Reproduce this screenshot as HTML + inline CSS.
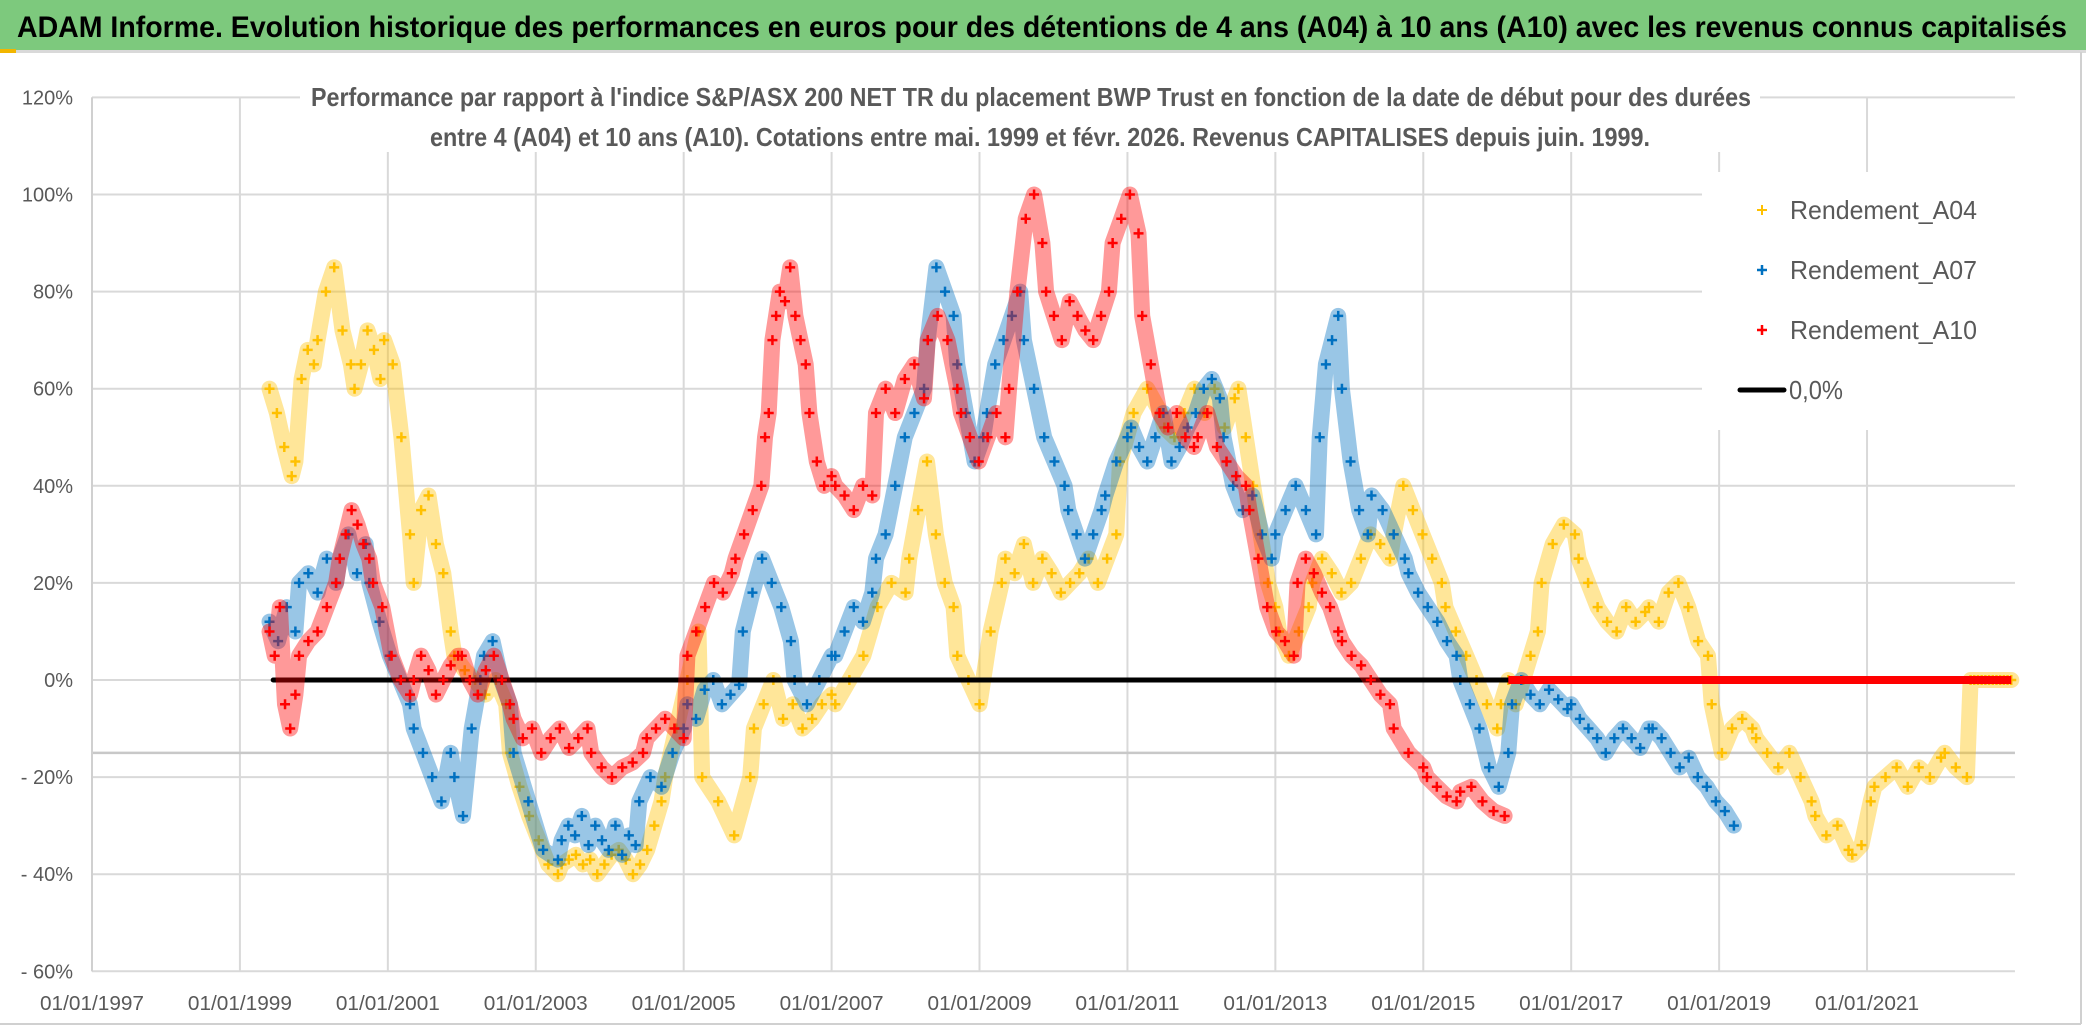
<!DOCTYPE html>
<html><head><meta charset="utf-8">
<style>
html,body{margin:0;padding:0;background:#fff;}
svg{display:block;font-family:"Liberation Sans",sans-serif;}
</style></head>
<body>
<svg id="chart" width="2086" height="1031" viewBox="0 0 2086 1031" xmlns="http://www.w3.org/2000/svg">
<rect x="0" y="0" width="2086" height="1031" fill="#fff"/>
<rect x="0" y="0" width="2086" height="50" fill="#7DC97D"/>
<line x1="0" y1="51.5" x2="2086" y2="51.5" stroke="#d9d9d9" stroke-width="3"/>
<rect x="0" y="49" width="16" height="4" fill="#F2B600"/>
<text x="1042" y="37" text-anchor="middle" font-size="30" font-weight="bold" fill="#000" textLength="2050" lengthAdjust="spacingAndGlyphs">ADAM Informe. Evolution historique des performances en euros pour des détentions de 4 ans (A04) à 10 ans (A10) avec les revenus connus capitalisés</text>
<line x1="2081" y1="52" x2="2081" y2="1024" stroke="#d0d0d0" stroke-width="2"/>
<line x1="0" y1="1024" x2="2081" y2="1024" stroke="#d0d0d0" stroke-width="2"/>
<g id="grid"></g>
<g id="axes"></g>
<g id="series"></g>
<rect x="300" y="70" width="1460" height="82" fill="#fff"/>
<text x="1031" y="106" text-anchor="middle" font-size="26" font-weight="600" fill="#595959" textLength="1440" lengthAdjust="spacingAndGlyphs">Performance par rapport à l'indice S&amp;P/ASX 200 NET TR  du placement BWP Trust en fonction de la date de début pour des durées</text>
<text x="1040" y="146" text-anchor="middle" font-size="26" font-weight="600" fill="#595959" textLength="1220" lengthAdjust="spacingAndGlyphs">entre 4 (A04) et 10 ans (A10). Cotations entre mai. 1999 et févr. 2026. Revenus CAPITALISES depuis juin. 1999.</text>
<g>
<rect x="1702" y="172" width="313" height="258" fill="#fff"/>
<g>
<path d="M1757 210h10M1762 205v10" stroke="#FFC000" stroke-width="2"/>
<text x="1790" y="219" font-size="26" fill="#595959" textLength="187" lengthAdjust="spacingAndGlyphs">Rendement_A04</text></g>
<g>
<path d="M1757 270h10M1762 265v10" stroke="#0070C0" stroke-width="2.5"/>
<text x="1790" y="279" font-size="26" fill="#595959" textLength="187" lengthAdjust="spacingAndGlyphs">Rendement_A07</text></g>
<g>
<path d="M1757 330h10M1762 325v10" stroke="#FF0000" stroke-width="2.5"/>
<text x="1790" y="339" font-size="26" fill="#595959" textLength="187" lengthAdjust="spacingAndGlyphs">Rendement_A10</text></g>
<g>
<line x1="1740" y1="390" x2="1784" y2="390" stroke="#000" stroke-width="5" stroke-linecap="round"/>
<text x="1789" y="399" font-size="26" fill="#595959" textLength="54" lengthAdjust="spacingAndGlyphs">0,0%</text></g>
</g>
</svg>
<script>
// ---- data ----
const yTicks = [120,100,80,60,40,20,0,-20,-40,-60];
const yTickLabels = ["120%","100%","80%","60%","40%","20%","0%","- 20%","- 40%","- 60%"];
const xTicks = [1997,1999,2001,2003,2005,2007,2009,2011,2013,2015,2017,2019,2021];
const xTickLabels = ["01/01/1997","01/01/1999","01/01/2001","01/01/2003","01/01/2005","01/01/2007","01/01/2009","01/01/2011","01/01/2013","01/01/2015","01/01/2017","01/01/2019","01/01/2021"];
const zeroLine = {start:1999.45, end:2016.15, value:0};
// segments: [startYear, endYear, values(%)]
const a04Segments = [
 [1999.4,1999.7,[60,55,48,42]],[1999.75,2000.0,[45,62,68,65]],[2000.05,2000.5,[70,80,85,72,65]],
 [2000.55,2000.9,[60,65,72,68,62]],[2000.95,2001.3,[70,65,50,30]],[2001.35,2001.85,[20,35,38,28,22,10]],
 [2001.9,2002.6,[5,2,0,-3,0,-5]],[2002.65,2003.3,[-15,-22,-28,-33,-38,-40]],
 [2003.35,2004.7,[-38,-37,-36,-38,-37,-40,-38,-36,-35,-37,-40,-38,-35,-30,-25]],
 [2004.75,2005.2,[-20,-10,0,10]],[2005.25,2005.9,[-20,-25,-32,-20]],
 [2005.95,2007.0,[-10,-5,0,-8,-5,-10,-8,-5,-3]],[2007.05,2008.0,[-5,0,5,15,20,18]],
 [2008.05,2008.65,[25,35,45,30,20,15]],[2008.7,2009.3,[5,0,-5,10,20]],
 [2009.35,2010.85,[25,22,28,20,25,22,18,20,22,25,20,25,30]],[2010.9,2011.45,[45,55,60,55]],
 [2011.5,2012.45,[52,50,55,60,55,60,52,58]],[2012.5,2013.0,[60,50,40,30,20,15]],
 [2013.05,2013.45,[10,5,10,15]],[2013.5,2014.55,[20,25,22,18,20,25,30,28,25]],
 [2014.6,2015.25,[30,40,35,30,25,20]],[2015.3,2016.0,[15,10,5,0,-5,-10]],
 [2016.05,2016.55,[-5,0,-5,0,5,10]],[2016.6,2017.05,[20,28,32,30]],
 [2017.1,2018.0,[25,20,15,12,10,15,12,14]],[2018.05,2018.85,[15,12,18,20,15,8,5]],
 [2018.9,2019.45,[-5,-15,-10,-8,-10]],[2019.5,2020.25,[-12,-15,-18,-15,-20,-25]],
 [2020.3,2020.75,[-28,-32,-30,-35]],[2020.8,2021.05,[-36,-34,-25]],
 [2021.1,2022.0,[-22,-20,-18,-22,-18,-20,-16]],[2022.05,2022.35,[-15,-18,-20]],
 [2022.4,2022.95,[0,0,0,0,0,0,0,0,0,0,0,0]]
];
const a07Segments = [
 [1999.4,1999.75,[12,8,15,10]],[1999.8,2000.3,[20,22,18,25,20]],[2000.35,2000.7,[25,30,22,28]],
 [2000.75,2001.3,[20,12,5,0,-5]],[2001.35,2001.85,[-10,-15,-20,-25,-15]],[2001.9,2002.25,[-20,-28,-10,0]],
 [2002.3,2002.65,[5,8,0,-5]],[2002.7,2003.3,[-15,-25,-35,-37]],
 [2003.35,2004.35,[-33,-30,-32,-28,-34,-30,-33,-35,-30,-36,-32,-34]],
 [2004.4,2005.0,[-25,-20,-22,-15,-10]],[2005.05,2005.75,[-5,-8,-2,0,-5,-3,-1]],
 [2005.8,2006.45,[10,18,25,20,15,8]],[2006.5,2007.0,[0,-5,0,5]],[2007.05,2007.55,[5,10,15,12,18]],
 [2007.6,2008.25,[25,30,40,50,55,60]],[2008.3,2008.65,[70,85,80,75]],[2008.7,2009.05,[65,55,45,50]],
 [2009.1,2009.55,[55,65,70,75,80]],[2009.6,2010.15,[70,60,50,45,40]],[2010.2,2010.65,[35,30,25,30,35]],
 [2010.7,2011.0,[38,45,50]],[2011.05,2012.25,[52,48,45,50,55,45,48,52,55,60,62,58]],
 [2012.3,2012.95,[50,40,35,38,30,25]],[2013.0,2013.55,[30,35,40,35,30]],
 [2013.6,2013.85,[50,65,70,75]],[2013.9,2014.25,[60,45,35,30]],[2014.3,2014.75,[38,35,30,25]],
 [2014.8,2015.45,[22,18,15,12,8,5]],[2015.5,2016.15,[0,-5,-10,-18,-22,-15]],
 [2016.2,2016.95,[-5,0,-3,-5,-2,-4,-6]],[2017.0,2018.05,[-5,-8,-10,-12,-15,-12,-10,-12,-14,-10]],
 [2018.1,2019.2,[-10,-12,-15,-18,-16,-20,-22,-25,-27,-30]]
];
const a10Segments = [
 [1999.4,1999.75,[10,5,15,-5,-10,-3]],[1999.8,2000.3,[5,8,10,15,20]],[2000.35,2000.75,[25,30,35,32,28,25]],
 [2000.8,2001.3,[20,15,5,0,-3]],[2001.35,2001.95,[0,5,2,-3,0,3,5]],[2002.0,2002.65,[5,0,-3,2,5,0,-5]],
 [2002.7,2003.7,[-8,-12,-10,-15,-12,-10,-14,-12,-10]],[2003.75,2004.45,[-15,-18,-20,-18,-17,-15]],
 [2004.5,2005.0,[-12,-10,-8,-10,-12]],[2005.05,2005.65,[5,10,15,20,18,22]],
 [2005.7,2006.05,[25,30,35,40]],[2006.1,2006.25,[50,55,70,75]],[2006.3,2006.65,[80,78,85,75,70,65]],
 [2006.7,2007.0,[55,45,40,42]],[2007.05,2007.55,[40,38,35,40,38]],[2007.6,2008.25,[55,60,55,62,65,58]],
 [2008.3,2008.7,[70,75,70,60]],[2008.75,2009.35,[55,50,45,50,55,50]],[2009.4,2009.85,[60,80,95,100,90]],
 [2009.9,2010.75,[80,75,70,78,75,72,70,75,80]],[2010.8,2011.15,[90,95,100,92]],
 [2011.2,2011.9,[75,65,55,52,55,50,48]],[2011.95,2012.6,[50,55,48,45,42,40]],
 [2012.65,2013.25,[35,25,15,10,8,5]],[2013.3,2013.85,[20,25,22,18,15,10]],
 [2013.9,2014.55,[8,5,3,0,-3,-5]],[2014.6,2015.0,[-10,-15,-18]],[2015.05,2015.45,[-20,-22,-24,-25]],
 [2015.5,2016.1,[-23,-22,-25,-27,-28]]
];
const a10Flat = {start:2016.15, end:2022.95, value:0};

// ---- axes ----
const X0 = 92, PX_PER_YEAR = 73.96, Y0 = 680, PX_PER_PCT = 4.855;
const xScale = yr => X0 + (yr - 1997) * PX_PER_YEAR;
const yScale = v => Y0 - v * PX_PER_PCT;
const NS = "http://www.w3.org/2000/svg";
function mk(tag, attrs, parent){
  const e = document.createElementNS(NS, tag);
  for (const k in attrs) e.setAttribute(k, attrs[k]);
  parent.appendChild(e); return e;
}
const grid = document.getElementById('grid');
const axes = document.getElementById('axes');
const series = document.getElementById('series');
const plotRight = xScale(2023);

yTicks.forEach((v, i) => {
  const l = mk('line', {x1:X0, x2:plotRight, y1:yScale(v), y2:yScale(v), stroke:'#d9d9d9', 'stroke-width':2}, grid);
  
  
  const t = mk('text', {x:73, y:yScale(v)+7, 'text-anchor':'end', 'font-size':20, fill:'#595959'}, axes);
  
  
  t.textContent = yTickLabels[i];
});
xTicks.forEach((yr, i) => {
  const l = mk('line', {x1:xScale(yr), x2:xScale(yr), y1:yScale(120), y2:yScale(-60), stroke:'#d9d9d9', 'stroke-width':2}, grid);
  
  
  const t = mk('text', {x:xScale(yr), y:1010, 'text-anchor':'middle', 'font-size':20, fill:'#595959', textLength:104, lengthAdjust:'spacingAndGlyphs'}, axes);
  
  
  t.textContent = xTickLabels[i];
});
const ref = mk('line', {x1:X0, x2:plotRight, y1:yScale(-15), y2:yScale(-15), stroke:'#c8c8c8', 'stroke-width':2.5}, grid);


const yAxis = mk('line', {x1:X0, x2:X0, y1:yScale(120), y2:yScale(-60), stroke:'#d0d0d0', 'stroke-width':2}, grid);



function expand(segs){
  const pts = [];
  segs.forEach(s => {
    const [a, b, vals] = s;
    const n = vals.length;
    vals.forEach((v, i) => pts.push([n > 1 ? a + (b - a) * i / (n - 1) : a, v]));
  });
  return pts;
}
function drawSeries(segs, color, name){
  const g = mk('g', {}, series);
  
  
  const pts = expand(segs);
  const d = pts.map((p, i) => (i ? 'L' : 'M') + xScale(p[0]).toFixed(1) + ' ' + yScale(p[1]).toFixed(1)).join('');
  const band = mk('path', {d:d, fill:'none', stroke:color, 'stroke-width':16, 'stroke-opacity':0.4, 'stroke-linejoin':'round', 'stroke-linecap':'round'}, g);
  
  
  pts.forEach(p => {
    const x = xScale(p[0]), y = yScale(p[1]);
    const m = mk('path', {d:`M${x-5} ${y}h10M${x} ${y-5}v10`, stroke:color, 'stroke-width':2.5}, g);
    
    
  });
}
drawSeries(a04Segments, '#FFC000', 'series-a04');
drawSeries(a07Segments, '#0070C0', 'series-a07');
const zl = mk('line', {x1:xScale(zeroLine.start), x2:xScale(zeroLine.end), y1:yScale(zeroLine.value), y2:yScale(zeroLine.value), stroke:'#000', 'stroke-width':5, 'stroke-linecap':'round'}, series);


drawSeries(a10Segments, '#FF0000', 'series-a10');
const flat = mk('line', {x1:xScale(a10Flat.start), x2:xScale(a10Flat.end), y1:yScale(a10Flat.value), y2:yScale(a10Flat.value), stroke:'#FF0000', 'stroke-width':8}, series);


</script>
</body></html>
